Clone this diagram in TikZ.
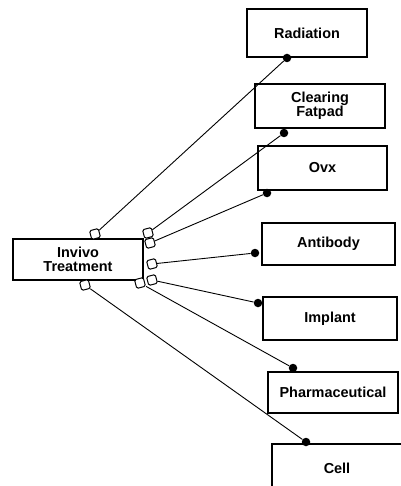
\documentclass[tikz,border=0pt]{standalone}
\usepackage{fontspec}
\setmainfont{Liberation Sans}
\usepackage{tikz}
\usetikzlibrary{arrows,shapes}
\pgfdeclarelayer{background}
\pgfsetlayers{background,main}
\tikzstyle{box}=[draw,line width=1.4bp,rectangle,align=center,inner sep=0pt,font=\fontsize{14.5}{14.5}\selectfont\bfseries]
\tikzstyle{port}=[draw,line width=1bp,fill=white,rectangle,rounded corners=1.5bp,minimum size=9bp,inner sep=0pt,rotate=15]
\tikzstyle{dot}=[circle,fill=black,minimum size=8.5bp,inner sep=0pt]
\tikzstyle{edge}=[draw,line width=0.9bp,-]

\begin{document}
\begin{tikzpicture}[x=1bp,y=-1bp]
    \useasboundingbox (0,0) rectangle (400,486);
    % First we draw the boxes
    \foreach \pos/\w/\h/\name/\txt in {{(78,259.5)/130/41/invivo/{Invivo\\Treatment}},
        {(307,33)/120/48/radiation/Radiation}, {(320,106)/130/44/fatpad/{Clearing\\Fatpad}},
        {(322.5,168)/129/44/ovx/Ovx}, {(328.5,244)/133/42/antibody/Antibody},
        {(330,318.5)/134/43/implant/Implant}, {(333,392.5)/130/41/pharma/Pharmaceutical},
        {(337,468)/130/48/cell/Cell}}
        \node[box,minimum width=\w bp,minimum height=\h bp] (\name) at \pos {\txt};
    % Ports on the treatment box
    \foreach \pos/\name in {{(95,234)/p1}, {(148,233)/p2}, {(150,243)/p3}, {(152,264)/p4},
        {(152,280)/p5}, {(140,283)/p6}, {(85,285)/p7}}
        \node[port] (\name) at \pos {};
    % Dots on the target boxes
    \foreach \pos/\name in {{(287,58)/d1}, {(284,133)/d2}, {(267,193)/d3}, {(255,253)/d4},
        {(258,303)/d5}, {(293,368)/d6}, {(306,442)/d7}}
        \node[dot] (\name) at \pos {};
    % Connect ports with dots
    \foreach \source/ \dest in {p1/d1, p2/d2, p3/d3, p4/d4, p5/d5, p6/d6, p7/d7}
        \path[edge] (\source) -- (\dest) ;
\end{tikzpicture}
\end{document}
